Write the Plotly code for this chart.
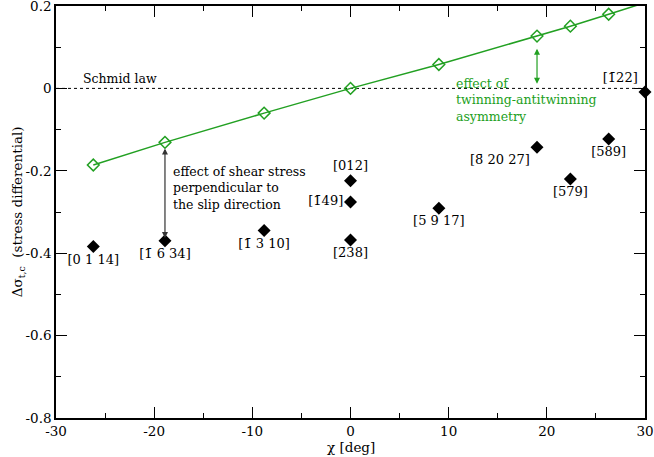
import plotly.graph_objects as go

# green curve: twinning-antitwinning asymmetry
chi_green = [-26.2, -18.9, -8.8, 0.0, 9.0, 19.0, 22.4, 26.3, 30.0]
dsig_green = [-0.186, -0.131, -0.060, 0.0, 0.058, 0.127, 0.151, 0.180, 0.208]

# black points: loading orientations
chi_pts = [-26.2, -18.9, -8.8, 0.0, 0.0, 0.0, 9.0, 19.0, 22.4, 26.3, 30.0]
dsig_pts = [-0.384, -0.370, -0.345, -0.224, -0.276, -0.368, -0.291, -0.143, -0.220, -0.123, -0.009]
OB = "\u0304"
labels = ["[0 1 14]", "[1" + OB + " 6 34]", "[1" + OB + " 3 10]", "[012]", "[1" + OB + "49]",
          "[2" + OB + "38]", "[5" + OB + " 9 17]", "[8" + OB + " 20 27]", "[5" + OB + "79]",
          "[5" + OB + "89]", "[1" + OB + "22]"]
label_pos = ["bottom center", "bottom center", "bottom center", "top center", "middle left",
             "bottom center", "bottom center", "bottom left", "bottom center",
             "bottom center", "top left"]

x_ticks = [-30, -20, -10, 0, 10, 20, 30]
y_ticks = [-0.8, -0.6, -0.4, -0.2, 0, 0.2]
y_tick_text = ["-0.8", "-0.6", "-0.4", "-0.2", "0", "0.2"]

FONT = "DejaVu Serif"
GREEN = "#22a022"

fig = go.Figure()

# Schmid law reference line
fig.add_trace(go.Scatter(x=[-30, 30], y=[0, 0], mode="lines",
                         line=dict(color="black", width=1, dash="dot"),
                         hoverinfo="skip", showlegend=False))

fig.add_trace(go.Scatter(x=chi_green, y=dsig_green, mode="lines+markers",
                         line=dict(color=GREEN, width=1.5),
                         marker=dict(symbol="diamond-open", size=9, color=GREEN,
                                     line=dict(width=1.5, color=GREEN)),
                         cliponaxis=True, showlegend=False))

fig.add_trace(go.Scatter(x=chi_pts, y=dsig_pts, mode="markers+text",
                         text=labels, textposition=label_pos,
                         textfont=dict(family=FONT, size=13, color="black"),
                         marker=dict(symbol="diamond", size=10, color="black"),
                         cliponaxis=False, showlegend=False))

ann_font = dict(family=FONT, size=12.5, color="black")
fig.add_annotation(x=-27.5, y=0.023, text="Schmid law", showarrow=False,
                   xanchor="left", yanchor="middle", font=ann_font)
fig.add_annotation(x=-18.3, y=-0.242,
                   text="effect of shear stress<br>perpendicular to<br>the slip direction",
                   showarrow=False, xanchor="left", yanchor="middle", align="left",
                   font=ann_font)
fig.add_annotation(x=10.5, y=-0.028,
                   text="effect of<br>twinning-antitwinning<br>asymmetry",
                   showarrow=False, xanchor="left", yanchor="middle", align="left",
                   font=dict(family=FONT, size=12.5, color=GREEN))

# double headed arrows
fig.add_annotation(x=-18.9, y=-0.363, ax=-18.9, ay=-0.142, xref="x", yref="y",
                   axref="x", ayref="y", text="", showarrow=True,
                   arrowside="end+start", arrowhead=2, arrowsize=1,
                   arrowwidth=1.2, arrowcolor="#333333")
fig.add_annotation(x=19.0, y=0.011, ax=19.0, ay=0.100, xref="x", yref="y",
                   axref="x", ayref="y", text="", showarrow=True,
                   arrowside="end+start", arrowhead=2, arrowsize=1,
                   arrowwidth=1.2, arrowcolor=GREEN)

# axis titles
fig.add_annotation(x=0, y=-0.07, xref="x", yref="paper", yanchor="middle",
                   text="\u03c7 [deg]", showarrow=False,
                   font=dict(family=FONT, size=13.5, color="black"))
fig.add_annotation(x=-0.064, y=0.5, xref="paper", yref="paper", textangle=-90,
                   xanchor="center", yanchor="middle",
                   text="\u0394\u03c3<sub>t,c</sub>  (stress differential)",
                   showarrow=False, font=dict(family=FONT, size=13.5, color="black"))

axis_common = dict(showline=True, linecolor="black", linewidth=1.5, mirror="allticks",
                   ticks="inside", ticklen=11, tickwidth=1.2, tickcolor="black",
                   showgrid=False, zeroline=False, automargin=False,
                   ticklabeloverflow="allow",
                   tickfont=dict(family=FONT, size=13.5, color="black"))

fig.update_xaxes(range=[-30, 30], tickmode="array", tickvals=x_ticks,
                 ticktext=[str(v) for v in x_ticks],
                 minor=dict(tickmode="array", tickvals=[-25, -15, -5, 5, 15, 25],
                            ticks="inside", ticklen=5, tickwidth=1.2, tickcolor="black"),
                 **axis_common)
fig.update_yaxes(range=[-0.8, 0.2], tickmode="array", tickvals=y_ticks,
                 ticktext=y_tick_text,
                 minor=dict(tickmode="array", tickvals=[-0.7, -0.5, -0.3, -0.1, 0.1],
                            ticks="inside", ticklen=5, tickwidth=1.2, tickcolor="black"),
                 **axis_common)

fig.update_layout(width=654, height=457, margin=dict(l=56, r=9, t=6, b=39),
                  plot_bgcolor="white", paper_bgcolor="white",
                  font=dict(family=FONT, size=13.5, color="black"))

fig.write_html("out.html", config={"displayModeBar": False},
               post_script="document.body.style.margin='0px';")
